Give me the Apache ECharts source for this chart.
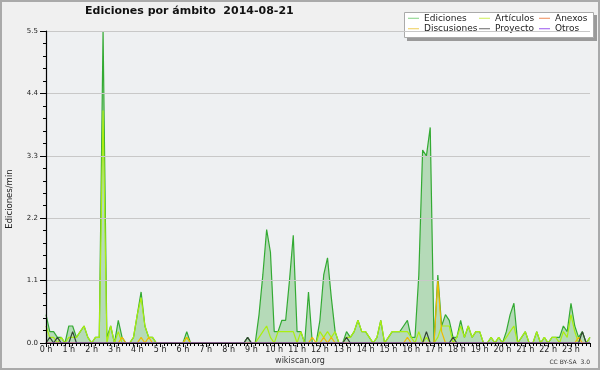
<!DOCTYPE html>
<html><head><meta charset="utf-8">
<script src="https://cdn.jsdelivr.net/npm/echarts@6/dist/echarts.min.js"></script>
<style>html,body{margin:0;padding:0;background:#f0f0f0}#c{width:600px;height:370px}</style>
</head><body><div id="c"></div>
<script>
// 10-minute bins, 0:00 .. 23:50 (144 points), values in edits/min
const hourLabels = Array.from({length: 24}, (_, h) => h + ' h');
const ediciones = [
0.5,0.2,0.2,0.1,0.1,0,0.3,0.3,0.1,0.2,0.3,0.1,0,0.1,0.1,5.5,0.1,0.3,0,0.4,0.1,0,0,0.1,
0.5,0.9,0.3,0.1,0.1,0,0,0,0,0,0,0,0,0.2,0,0,0,0,0,0,0,0,0,0,
0,0,0,0,0,0.1,0,0,0.5,1.2,2.0,1.6,0.2,0.2,0.4,0.4,1.1,1.9,0.2,0.2,0,0.9,0,0,
0.4,1.2,1.5,0.8,0.2,0,0,0.2,0.1,0.2,0.4,0.2,0.2,0.1,0,0.1,0.4,0,0.1,0.2,0.2,0.2,0.3,0.4,
0.1,0.1,1.2,3.4,3.3,3.8,0,1.2,0.3,0.5,0.4,0.1,0.1,0.4,0.1,0.3,0.1,0.2,0.2,0,0,0.1,0,0.1,
0,0.2,0.5,0.7,0,0.1,0.2,0,0,0.2,0,0.1,0,0.1,0.1,0.1,0.3,0.2,0.7,0.3,0.1,0.2,0,0.1];
const articulos = [
0.3,0.1,0.1,0,0.1,0,0.1,0.1,0.1,0.2,0.3,0.1,0,0.1,0.1,4.1,0,0.3,0,0.2,0,0,0,0.1,
0.5,0.8,0.3,0.1,0.1,0,0,0,0,0,0,0,0,0.1,0,0,0,0,0,0,0,0,0,0,
0,0,0,0,0,0,0,0,0.1,0.2,0.3,0.1,0,0.2,0.2,0.2,0.2,0.2,0,0.2,0,0,0,0,
0.2,0.1,0.2,0.1,0.2,0,0,0.1,0.1,0.2,0.4,0.2,0.2,0.1,0,0.1,0.4,0,0.1,0.2,0.2,0.2,0.2,0.2,
0.1,0,0.2,0,0.1,0,0,0.1,0.3,0.3,0.3,0,0.1,0.3,0.1,0.3,0.1,0.2,0.2,0,0,0.1,0,0.1,
0,0.1,0.2,0.3,0,0.1,0.2,0,0,0.2,0,0.1,0,0.1,0.1,0,0.2,0.1,0.5,0.2,0,0,0,0.1];
const discusiones = new Array(144).fill(0);
[[20,0.1],[25,0.1],[27,0.1],[37,0.1],[70,0.1],[73,0.1],[75,0.1],[95,0.1],[103,1.1],[104,0.2],[140,0.1]]
  .forEach(([i, v]) => { discusiones[i] = v; });
const proyecto = new Array(144).fill(0);
[[1,0.1],[3,0.1],[7,0.2],[53,0.1],[79,0.1],[100,0.2],[107,0.1],[141,0.2]]
  .forEach(([i, v]) => { proyecto[i] = v; });
const anexos = new Array(144).fill(0);
const otros = new Array(144).fill(0);

const pairs = arr => arr.map((v, i) => [i, v]);
const FONT = '"DejaVu Sans", sans-serif';

const mk = (name, data, color, area) => ({
  name, type: 'line', data: pairs(data), showSymbol: false, symbol: 'none',
  animation: false, silent: true,
  lineStyle: {color, width: 1.2}, itemStyle: {color},
  areaStyle: area ? {color: 'rgba(60,170,60,0.45)'} : undefined
});

const legendBase = {
  orient: 'vertical', top: 13, padding: 0, itemGap: 0, icon: 'rect',
  itemWidth: 11, itemHeight: 1, selectedMode: false,
  textStyle: {fontFamily: FONT, fontSize: 9, color: '#222', lineHeight: 10.5}
};
const chart = echarts.init(document.getElementById('c'), null, {renderer: 'canvas'});
chart.setOption({
  backgroundColor: '#f0f0f0',
  animation: false,
  title: {text: 'Ediciones por ámbito  2014-08-21', left: 85, top: 6, padding: 0,
    textStyle: {fontFamily: FONT, fontSize: 11, fontWeight: 'bold', color: '#111'}},
  legend: [
    Object.assign({}, legendBase, {left: 408, data: [
      {name: 'Ediciones', itemStyle: {color: '#80d080'}},
      {name: 'Discusiones', itemStyle: {color: '#eecc55'}}]}),
    Object.assign({}, legendBase, {left: 479, data: [
      {name: 'Artículos', itemStyle: {color: '#ccee55'}},
      {name: 'Proyecto', itemStyle: {color: '#666666'}}]}),
    Object.assign({}, legendBase, {left: 539, data: [
      {name: 'Anexos', itemStyle: {color: '#ee8855'}},
      {name: 'Otros', itemStyle: {color: '#9955ee'}}]})
  ],
  grid: {left: 46, right: 10, top: 31, bottom: 27, show: true,
    backgroundColor: '#eef0f2', borderWidth: 0},
  xAxis: {
    type: 'value', min: 0, max: 143, interval: 6, z: 5,
    axisLine: {lineStyle: {color: '#000', width: 1.2}},
    axisTick: {length: 4, lineStyle: {color: '#000'}},
    minorTick: {show: true, splitNumber: 6, length: 3, lineStyle: {color: '#000'}},
    splitLine: {show: false},
    axisLabel: {margin: 3, fontFamily: FONT, fontSize: 8, color: '#222',
      showMaxLabel: false,
      formatter: v => (v % 6 === 0 ? hourLabels[v / 6] : '')}
  },
  yAxis: {
    type: 'value', min: 0, max: 5.5, interval: 1.1, z: 5,
    axisLine: {show: true, lineStyle: {color: '#000', width: 1.2}},
    axisTick: {show: true, length: 6, lineStyle: {color: '#000'}},
    minorTick: {show: true, splitNumber: 5, length: 3, lineStyle: {color: '#000'}},
    splitLine: {show: true, lineStyle: {color: '#c8c8c8'}},
    axisLabel: {margin: 8, fontFamily: FONT, fontSize: 7, color: '#222',
      formatter: v => v.toFixed(1)}
  },
  series: [
    mk('Ediciones', ediciones, '#33aa33', true),
    mk('Artículos', articulos, '#aaee11'),
    mk('Anexos', anexos, '#ee7733'),
    mk('Discusiones', discusiones, '#eebb00'),
    mk('Proyecto', proyecto, '#334433'),
    mk('Otros', otros, '#8844ee')
  ],
  graphic: [
    {type: 'rect', z: 0, shape: {x: 1, y: 1, width: 598, height: 368},
      style: {fill: 'none', stroke: '#aaaaaa', lineWidth: 2}},
    {type: 'rect', z: 1, shape: {x: 407, y: 15, width: 190, height: 26}, style: {fill: '#9a9a9a'}},
    {type: 'rect', z: 1, shape: {x: 404.5, y: 12.5, width: 189, height: 25},
      style: {fill: '#ffffff', stroke: '#aaaaaa', lineWidth: 1}},
    {type: 'text', z: 5, rotation: Math.PI / 2, x: 10, y: 199,
      style: {text: 'Ediciones/min', font: '8.5px ' + FONT, fill: '#222',
        align: 'center', verticalAlign: 'middle', textAlign: 'center', textVerticalAlign: 'middle'}},
    {type: 'text', z: 5, x: 300, y: 361,
      style: {text: 'wikiscan.org', font: '8px ' + FONT, fill: '#333',
        align: 'center', verticalAlign: 'middle', textAlign: 'center', textVerticalAlign: 'middle'}},
    {type: 'text', z: 5, x: 590, y: 362,
      style: {text: 'CC BY-SA  3.0', font: '6px ' + FONT, fill: '#333',
        align: 'right', verticalAlign: 'middle', textAlign: 'right', textVerticalAlign: 'middle'}}
  ]
});
</script></body></html>
